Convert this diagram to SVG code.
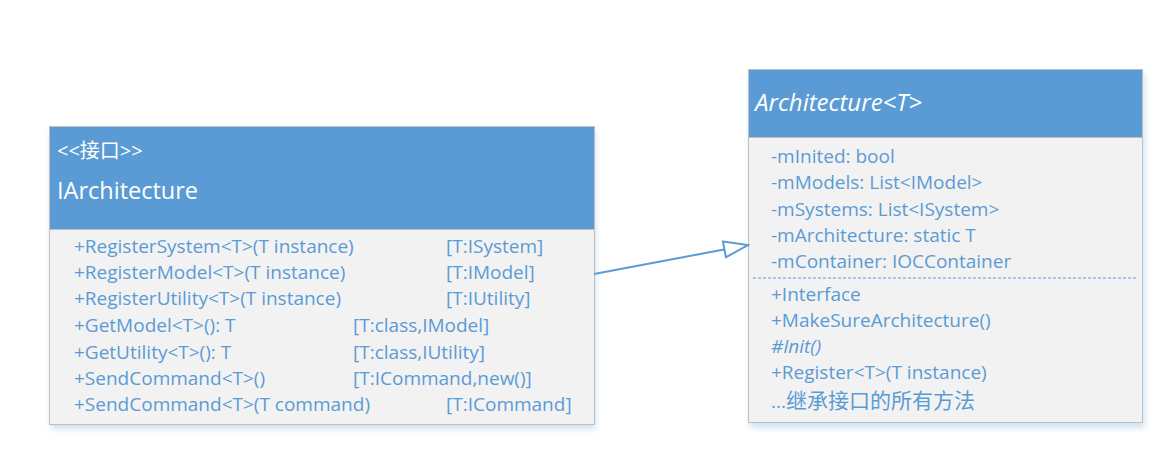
<svg xmlns="http://www.w3.org/2000/svg" width="1168" height="463" viewBox="0 0 1168 463">
<defs>
<style>
.hdr{fill:#5B9BD5;}
.body{fill:#F2F2F2;stroke:#BFBFBF;stroke-width:1;}
.shadow{fill:#BDD7EE;opacity:0.7;}
.t{font-family:"Open Sans","Noto Sans CJK SC",sans-serif;font-size:19px;fill:#5B9BD5;}
.h{font-family:"Open Sans","Noto Sans CJK SC",sans-serif;fill:#FFFFFF;}
.conn{stroke:#5B9BD5;stroke-width:2;fill:none;}
</style>
<filter id="blur" x="-10%" y="-10%" width="120%" height="120%">
<feGaussianBlur stdDeviation="3"/>
</filter>
<marker id="tri" markerWidth="28" markerHeight="20" refX="26" refY="10" orient="auto" markerUnits="userSpaceOnUse">
<path d="M2,2 L26,10 L2,18 Z" fill="#FFFFFF" stroke="#5B9BD5" stroke-width="2"/>
</marker>
</defs>
<rect width="1168" height="463" fill="#FFFFFF"/>
<g id="IArchitecture">
<rect class="shadow" x="51" y="130" width="545" height="299" filter="url(#blur)"/>
<rect class="body" x="49.5" y="126.5" width="545" height="298"/>
<rect class="hdr" x="50" y="127" width="544" height="102"/>
<line x1="50" y1="229.5" x2="594" y2="229.5" stroke="#BFBFBF"/>
<text class="h" x="57" y="158" font-size="20">&lt;&lt;接口&gt;&gt;</text>
<text class="h" x="57" y="199" font-size="23.5">IArchitecture</text>
<text class="t" x="74" y="253">+RegisterSystem&lt;T&gt;(T instance)</text>
<text class="t" x="446" y="253">[T:ISystem]</text>
<text class="t" x="74" y="279">+RegisterModel&lt;T&gt;(T instance)</text>
<text class="t" x="446" y="279">[T:IModel]</text>
<text class="t" x="74" y="305">+RegisterUtility&lt;T&gt;(T instance)</text>
<text class="t" x="446" y="305">[T:IUtility]</text>
<text class="t" x="74" y="332">+GetModel&lt;T&gt;(): T</text>
<text class="t" x="353" y="332">[T:class,IModel]</text>
<text class="t" x="74" y="359">+GetUtility&lt;T&gt;(): T</text>
<text class="t" x="353" y="359">[T:class,IUtility]</text>
<text class="t" x="74" y="385">+SendCommand&lt;T&gt;()</text>
<text class="t" x="353" y="385">[T:ICommand,new()]</text>
<text class="t" x="74" y="411">+SendCommand&lt;T&gt;(T command)</text>
<text class="t" x="446" y="411">[T:ICommand]</text>
</g>
<g id="Architecture">
<rect class="shadow" x="750" y="73" width="395" height="355" filter="url(#blur)"/>
<rect class="body" x="748.5" y="69.5" width="394" height="353"/>
<rect class="hdr" x="749" y="70" width="393" height="67"/>
<line x1="749" y1="137.5" x2="1142" y2="137.5" stroke="#BFBFBF"/>
<text class="h" x="755" y="111" font-size="24" font-style="italic">Architecture&lt;T&gt;</text>
<text class="t" x="771" y="163">-mInited: bool</text>
<text class="t" x="771" y="189">-mModels: List&lt;IModel&gt;</text>
<text class="t" x="771" y="216">-mSystems: List&lt;ISystem&gt;</text>
<text class="t" x="771" y="242">-mArchitecture: static T</text>
<text class="t" x="771" y="268">-mContainer: IOCContainer</text>
<line x1="753" y1="278" x2="1138" y2="278" stroke="#5B9BD5" stroke-width="1.2" stroke-dasharray="3,2"/>
<text class="t" x="771" y="301">+Interface</text>
<text class="t" x="771" y="327">+MakeSureArchitecture()</text>
<text class="t" x="771" y="353" font-style="italic">#Init()</text>
<text class="t" x="771" y="379">+Register&lt;T&gt;(T instance)</text>
<text class="t" x="771" y="408">...<tspan font-size="21">继承接口的所有方法</tspan></text>
</g>
<g id="connectors">
<line class="conn" x1="594" y1="274" x2="748" y2="245" marker-end="url(#tri)"/>
</g>
</svg>
